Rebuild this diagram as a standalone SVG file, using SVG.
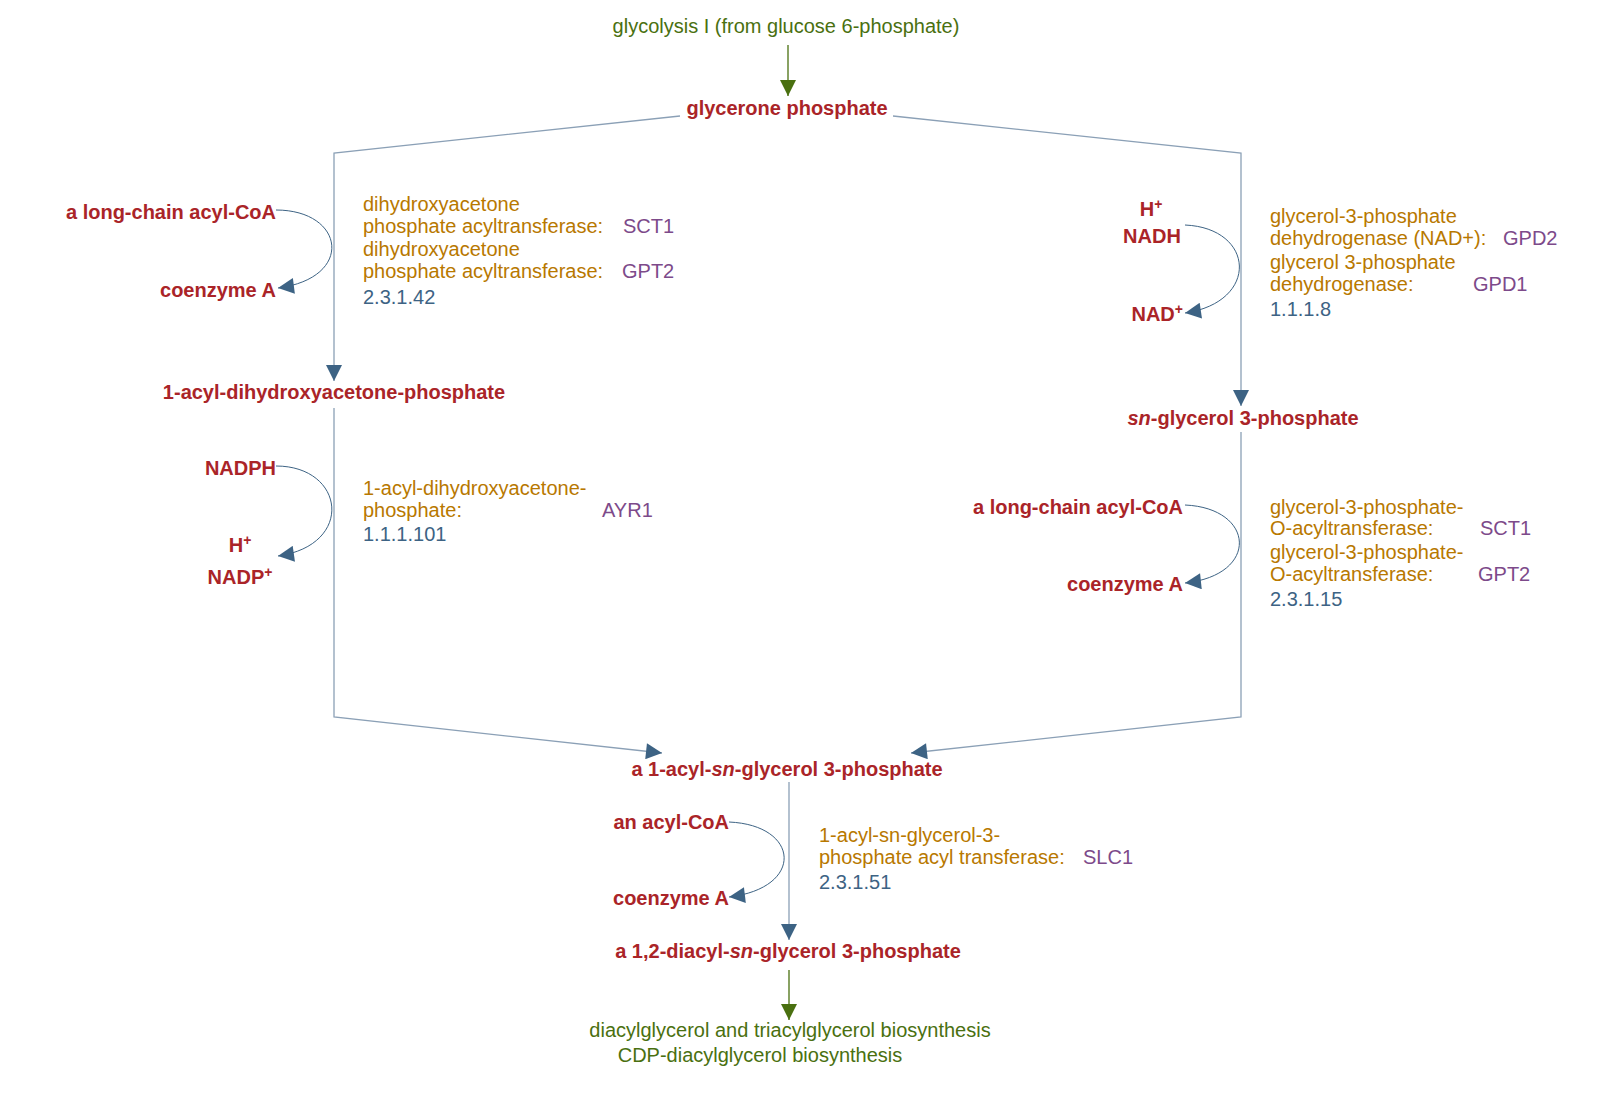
<svg xmlns="http://www.w3.org/2000/svg" width="1618" height="1110" viewBox="0 0 1618 1110">
<style>
text{font-family:"Liberation Sans",Arial,sans-serif;font-size:20px}
.c{fill:#aa2428;font-weight:bold}
.m{text-anchor:middle}
.e{text-anchor:end}
.z{fill:#b87800}
.g{fill:#7d4a8a}
.n{fill:#3d6384}
.p{fill:#4a7010}
.ln{fill:none;stroke:#8ba0b6;stroke-width:1.3}
.cv{fill:none;stroke:#3d6384;stroke-width:1}
.gl{fill:none;stroke:#4a7010;stroke-width:1.3}
.s{font-size:14px}
</style>
<defs>
<marker id="a" viewBox="0 0 10 10" refX="10" refY="5" markerWidth="20" markerHeight="16" markerUnits="userSpaceOnUse" orient="auto"><path d="M0,0L10,5L0,10z" fill="#3d6384"/></marker>
<marker id="ag" viewBox="0 0 10 10" refX="10" refY="5" markerWidth="18" markerHeight="16" markerUnits="userSpaceOnUse" orient="auto"><path d="M0,0L10,5L0,10z" fill="#4a7010"/></marker>
</defs>
<g id="connectors">
<path class="gl" d="M788,45V96" marker-end="url(#ag)"/>
<path class="ln" d="M680,116L334,153V381" marker-end="url(#a)"/>
<path class="ln" d="M893,116L1241,153V406" marker-end="url(#a)"/>
<path class="ln" d="M334,408V717L662,753" marker-end="url(#a)"/>
<path class="ln" d="M1241,432V717L911,753" marker-end="url(#a)"/>
<path class="ln" d="M789,782V940" marker-end="url(#a)"/>
<path class="gl" d="M789,970V1020" marker-end="url(#ag)"/>
<path class="cv" d="M276,210C345,210 355,278 278,288" marker-end="url(#a)"/>
<path class="cv" d="M276,466C345,466 355,545 278,556" marker-end="url(#a)"/>
<path class="cv" d="M1185,225C1255,228 1260,302 1185,313" marker-end="url(#a)"/>
<path class="cv" d="M1185,505C1255,508 1260,575 1185,583" marker-end="url(#a)"/>
<path class="cv" d="M729,822C800,825 805,888 729,897" marker-end="url(#a)"/>
</g>
<g id="top"><text class="p m" x="786" y="33">glycolysis I (from glucose 6-phosphate)</text></g>
<g id="glycerone"><text class="c m" x="787" y="115">glycerone phosphate</text></g>
<g id="acyldhap"><text class="c m" x="334" y="399">1-acyl-dihydroxyacetone-phosphate</text></g>
<g id="g3p"><text class="c m" x="1243" y="425"><tspan font-style="italic">sn</tspan>-glycerol 3-phosphate</text></g>
<g id="lpa"><text class="c m" x="787" y="776">a 1-acyl-<tspan font-style="italic">sn</tspan>-glycerol 3-phosphate</text></g>
<g id="pa"><text class="c m" x="788" y="958">a 1,2-diacyl-<tspan font-style="italic">sn</tspan>-glycerol 3-phosphate</text></g>
<g id="bottom"><text class="p m" x="790" y="1037">diacylglycerol and triacylglycerol biosynthesis</text><text class="p m" x="760" y="1062">CDP-diacylglycerol biosynthesis</text></g>
<g id="r1">
<text class="c e" x="276" y="219">a long-chain acyl-CoA</text>
<text class="c e" x="276" y="297">coenzyme A</text>
<text class="z" x="363" y="211">dihydroxyacetone</text>
<text class="z" x="363" y="233">phosphate acyltransferase:</text>
<text class="g" x="623" y="233">SCT1</text>
<text class="z" x="363" y="256">dihydroxyacetone</text>
<text class="z" x="363" y="278">phosphate acyltransferase:</text>
<text class="g" x="622" y="278">GPT2</text>
<text class="n" x="363" y="304">2.3.1.42</text>
</g>
<g id="r2">
<text class="c e" x="276" y="475">NADPH</text>
<text class="c m" x="240" y="552">H<tspan class="s" dy="-7">+</tspan></text>
<text class="c m" x="240" y="584">NADP<tspan class="s" dy="-7">+</tspan></text>
<text class="z" x="363" y="495">1-acyl-dihydroxyacetone-</text>
<text class="z" x="363" y="517">phosphate:</text>
<text class="g" x="602" y="517">AYR1</text>
<text class="n" x="363" y="541">1.1.1.101</text>
</g>
<g id="r3">
<text class="c m" x="1151" y="216">H<tspan class="s" dy="-7">+</tspan></text>
<text class="c m" x="1152" y="243">NADH</text>
<text class="c e" x="1183" y="321">NAD<tspan class="s" dy="-7">+</tspan></text>
<text class="z" x="1270" y="223">glycerol-3-phosphate</text>
<text class="z" x="1270" y="245">dehydrogenase (NAD+):</text>
<text class="g" x="1503" y="245">GPD2</text>
<text class="z" x="1270" y="269">glycerol 3-phosphate</text>
<text class="z" x="1270" y="291">dehydrogenase:</text>
<text class="g" x="1473" y="291">GPD1</text>
<text class="n" x="1270" y="316">1.1.1.8</text>
</g>
<g id="r4">
<text class="c e" x="1183" y="514">a long-chain acyl-CoA</text>
<text class="c e" x="1183" y="591">coenzyme A</text>
<text class="z" x="1270" y="514">glycerol-3-phosphate-</text>
<text class="z" x="1270" y="535">O-acyltransferase:</text>
<text class="g" x="1480" y="535">SCT1</text>
<text class="z" x="1270" y="559">glycerol-3-phosphate-</text>
<text class="z" x="1270" y="581">O-acyltransferase:</text>
<text class="g" x="1478" y="581">GPT2</text>
<text class="n" x="1270" y="606">2.3.1.15</text>
</g>
<g id="r5">
<text class="c e" x="729" y="829">an acyl-CoA</text>
<text class="c e" x="729" y="905">coenzyme A</text>
<text class="z" x="819" y="842">1-acyl-sn-glycerol-3-</text>
<text class="z" x="819" y="864">phosphate acyl transferase:</text>
<text class="g" x="1083" y="864">SLC1</text>
<text class="n" x="819" y="889">2.3.1.51</text>
</g>
</svg>
